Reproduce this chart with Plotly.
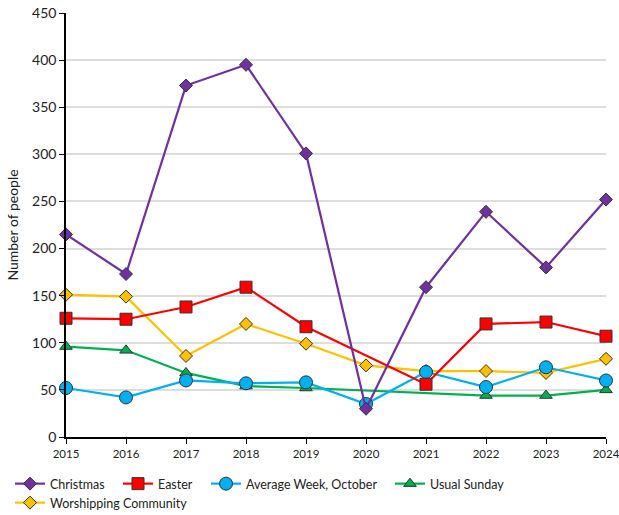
import plotly.graph_objects as go

years = [2015, 2016, 2017, 2018, 2019, 2020, 2021, 2022, 2023, 2024]
christmas = [215, 173, 373, 395, 301, 30, 159, 239, 180, 252]
easter = [126, 125, 138, 159, 117, None, 56, 120, 122, 107]
avg_week = [52, 42, 60, 57, 58, 35, 69, 53, 74, 60]
usual_sunday = [96, 92, 68, 54, 52, None, None, 44, 44, 50]
worshipping = [151, 149, 86, 120, 99, 76, 70, 70, 68, 83]

series = [
    # name, values, colour, symbol, size, legend id
    ("Worshipping Community", worshipping, "#FFC000", "diamond", 10, "legend5"),
    ("Usual Sunday", usual_sunday, "#00B050", "triangle-up", 11, "legend4"),
    ("Average Week, October", avg_week, "#00B0F0", "circle", 13, "legend3"),
    ("Easter", easter, "#FF0000", "square", 12, "legend2"),
    ("Christmas", christmas, "#7030A0", "diamond", 10, "legend"),
]

fig = go.Figure()
for name, vals, col, sym, size, leg in series:
    fig.add_trace(go.Scatter(
        x=years, y=vals, name=name, mode="lines+markers",
        connectgaps=True, cliponaxis=False, legend=leg,
        line=dict(color=col, width=2.2),
        marker=dict(symbol=sym, size=size, color=col,
                    line=dict(color="#333333", width=1)),
    ))

font = "Lato, 'Open Sans', sans-serif"
W, H = 619, 515


def leg(xpx, ypx):
    return dict(orientation="h", xref="container", yref="container",
                x=xpx / W, y=1 - ypx / H, xanchor="left", yanchor="top",
                font=dict(size=12.5, color="#222222"), itemwidth=30,
                bgcolor="rgba(0,0,0,0)")


fig.update_layout(
    width=W, height=H,
    margin=dict(l=66, r=13, t=13, b=78, autoexpand=False),
    paper_bgcolor="white", plot_bgcolor="white",
    font=dict(family=font, size=12, color="#222222"),
    showlegend=True,
    legend=leg(10, 469),
    legend2=leg(118, 469),
    legend3=leg(206, 469),
    legend4=leg(390, 469),
    legend5=leg(10, 488),
    xaxis=dict(range=[2015, 2024], tickmode="array", tickvals=years,
               ticktext=[str(y) for y in years], showgrid=False,
               showline=True, linecolor="black", linewidth=1.5,
               ticks="outside", ticklen=5, tickcolor="black",
               tickfont=dict(size=11.5), zeroline=False,
               ticklabeloverflow="allow"),
    yaxis=dict(range=[0, 450], dtick=50, showgrid=True, gridcolor="#DDDDDD",
               gridwidth=1.5, showline=True, linecolor="black", linewidth=1.5,
               ticks="outside", ticklen=5, tickcolor="black",
               tickfont=dict(size=14), zeroline=False,
               title=dict(text="Number of people", font=dict(size=14), standoff=10)),
)

# remove the browser's default 8px page margin so the figure sits at (0, 0)
fig.write_html("out.html", config={"displayModeBar": False},
               post_script="document.body.style.margin='0';")
